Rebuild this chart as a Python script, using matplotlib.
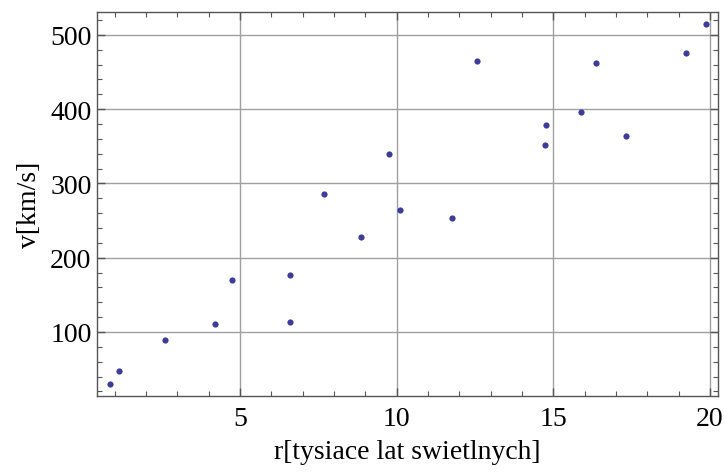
import matplotlib
matplotlib.use("Agg")
import matplotlib.pyplot as plt
from matplotlib.ticker import MultipleLocator

r = [0.86, 1.13, 2.61, 4.21, 4.75, 6.59, 6.59, 7.67, 8.86, 9.77, 10.12, 11.76,
     12.57, 14.73, 14.78, 15.89, 16.38, 17.31, 19.23, 19.86]
v = [30.5, 47, 89, 111, 170, 177, 113, 286, 228, 340, 264, 254,
     465, 352, 379, 396, 462, 364, 475, 515]
x_ticks = [5, 10, 15, 20]
y_ticks = [100, 200, 300, 400, 500]

plt.rcParams['font.family'] = ['Liberation Serif', 'DejaVu Serif']
fig = plt.figure(figsize=(7.25, 4.77), dpi=100)
ax = fig.add_axes([0.134, 0.168, 0.856, 0.805])

ax.scatter(r, v, s=20, color='#3d3d99', zorder=3, linewidths=0)
ax.set_xlim(0.445, 20.25)
ax.set_ylim(14, 531)
ax.set_xticks(x_ticks)
ax.set_yticks(y_ticks)
ax.xaxis.set_minor_locator(MultipleLocator(1))
ax.yaxis.set_minor_locator(MultipleLocator(20))
ax.grid(True, which='major', color='#a0a0a0', linewidth=1.0)
ax.tick_params(which='both', direction='in', top=True, right=True, color='#555555')
ax.tick_params(which='major', length=6, width=1, labelsize=20)
ax.tick_params(axis='x', which='major', pad=7)
ax.tick_params(axis='y', which='major', pad=4)
ax.tick_params(which='minor', length=3.5, width=0.8)
for s in ax.spines.values():
    s.set_color('#555555')
    s.set_linewidth(1.0)
ax.set_xlabel('r[tysiace lat swietlnych]', fontsize=20, labelpad=6)
ax.set_ylabel('v[km/s]', fontsize=20, labelpad=6)
fig.savefig('out.png', dpi=100)
